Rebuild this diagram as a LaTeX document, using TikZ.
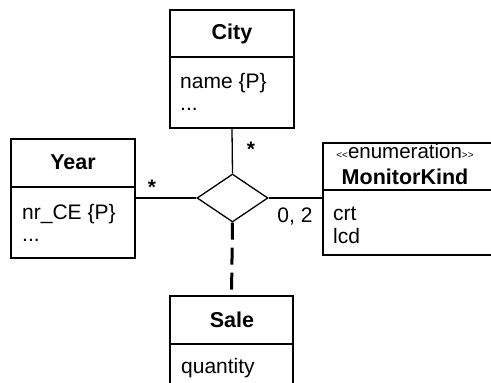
\documentclass[tikz,border=0pt]{standalone}
\usepackage{fontspec}
\setmainfont{Liberation Sans}
\usetikzlibrary{shapes.geometric}
\begin{document}
\begin{tikzpicture}[x=1pt,y=-1pt,
  classbox/.style={draw=black, line width=2pt, rectangle, inner sep=0pt},
  divider/.style={draw=black, line width=1.6pt},
  assoc/.style={draw=black, line width=1.3pt},
  depline/.style={draw=black, line width=3pt, dash pattern=on 17pt off 8pt},
  ttl/.style={anchor=base, inner sep=0pt, font=\fontsize{21.5}{25}\selectfont\bfseries},
  attr/.style={anchor=base west, inner sep=0pt, font=\fontsize{21}{25}\selectfont},
  mult/.style={anchor=base, inner sep=0pt, font=\fontsize{21}{25}\selectfont},
  star/.style={anchor=center, inner sep=0pt, font=\fontsize{21}{25}\selectfont\bfseries}]
\useasboundingbox (0,0) rectangle (491,383);
\fill[white] (0,0) rectangle (491,383);
\clip (0,0) rectangle (491,383);

% classes
\node[classbox, minimum width=124pt, minimum height=118pt] (city) at (232,69) {};
\node[classbox, minimum width=124pt, minimum height=119pt] (year) at (73,198.5) {};
\node[classbox, minimum width=172pt, minimum height=112pt] (mk) at (408.5,198.5) {};
\node[classbox, minimum width=123pt, minimum height=104pt] (sale) at (231.5,348) {};

% association diamond
\node[draw=black, line width=1.3pt, diamond, inner sep=0pt,
      minimum width=71pt, minimum height=48pt] (dia) at (232.5,198) {};

% compartments
\draw[divider] (city.west |- 0,57) -- (city.east |- 0,57);
\draw[divider] (year.west |- 0,187) -- (year.east |- 0,187);
\draw[divider] (mk.west |- 0,190) -- (mk.east |- 0,190);
\draw[divider] (sale.west |- 0,344) -- (sale.east |- 0,344);

% City
\node[ttl] (cityT) at (232,39) {City};
\node[attr] (cityA) at (180,88) {name \{P\}};
\node[attr] (cityB) at (180,110) {...};

% Year
\node[ttl] (yearT) at (73,169) {Year};
\node[attr] (yearA) at (22,219) {nr\_CE \{P\}};
\node[attr] (yearB) at (22,241) {...};

% MonitorKind with its stereotype
\node[anchor=base, inner sep=0pt] (mkS) at (405,158)
  {{\fontsize{10}{12}\selectfont{<}{<}}{\fontsize{20.5}{24}\selectfont enumeration}{\fontsize{10}{12}\selectfont{>}{>}}};
\node[ttl] (mkT) at (405,184) {MonitorKind};
\node[attr] (mkA) at (333,220) {crt};
\node[attr] (mkB) at (333,243) {lcd};

% Sale
\node[ttl] (saleT) at (232,327) {Sale};
\node[attr] (saleA) at (181,373) {quantity};

% connectors
\draw[assoc] (city.south) -- (dia.north);
\draw[assoc] (year.east |- dia.west) -- (dia.west);
\draw[assoc] (dia.east) -- (mk.west |- dia.east);
\draw[depline] (dia.south) -- (sale.north);

% multiplicities
\node[star] (m1) at (251,149) {*};
\node[star] (m2) at (152,187) {*};
\node[mult] (m3) at (295,222) {0, 2};
\end{tikzpicture}
\end{document}
